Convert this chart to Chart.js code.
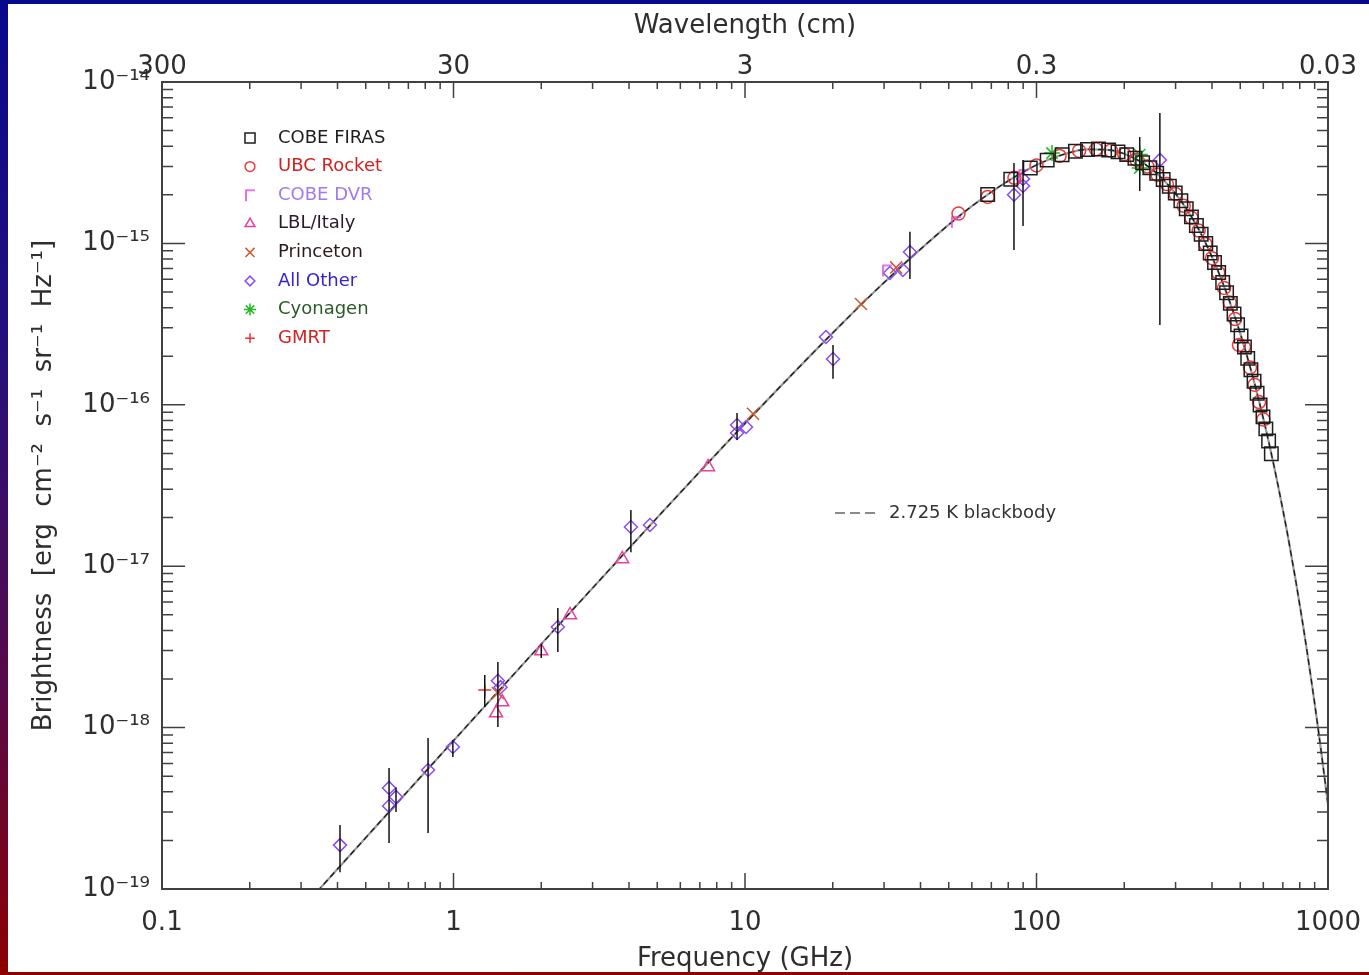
<!DOCTYPE html>
<html>
<head>
<meta charset="utf-8">
<title>CMB spectrum</title>
<script src="https://cdn.jsdelivr.net/npm/chart.js@4/dist/chart.umd.min.js"></script>
<style>
  html, body { margin: 0; padding: 0; }
  body {
    width: 1369px; height: 975px; overflow: hidden; position: relative;
    background: linear-gradient(to bottom, #08088c 0%, #24107c 35%, #560a4a 70%, #8c0000 100%);
  }
  #panel { position: absolute; left: 8px; top: 4px; width: 1361px; height: 968px; background: #fff; }
  #wrap { position: absolute; left: 0; top: 0; width: 1369px; height: 975px; }
</style>
</head>
<body>
<div id="panel"></div>
<div id="wrap"><canvas id="spectrum"></canvas></div>
<script>
// axis ticks (frequency in GHz, brightness in erg cm^-2 s^-1 sr^-1 Hz^-1)
var freqTicks = [0.1, 1, 10, 100, 1000];
var freqTickLabels = ["0.1", "1", "10", "100", "1000"];
var waveTickLabels = ["300", "30", "3", "0.3", "0.03"];
var brightTicks = [1e-19, 1e-18, 1e-17, 1e-16, 1e-15, 1e-14];
var brightTickLabels = ["10⁻¹⁹", "10⁻¹⁸", "10⁻¹⁷", "10⁻¹⁶", "10⁻¹⁵", "10⁻¹⁴"];

// COBE FIRAS
var firasFreq = [68.0, 81.6, 95.2, 108.8, 122.4, 136.0, 149.6, 163.2, 176.8, 190.4, 204.0, 217.6, 231.2, 244.8, 258.4,
    272.0, 285.6, 299.2, 312.8, 326.4, 340.0, 353.6, 367.2, 380.8, 394.4, 408.0, 421.6, 435.2, 448.8, 462.4, 476.0,
    489.6, 503.2, 516.8, 530.4, 544.0, 557.6, 571.2, 584.8, 598.4, 612.0, 625.6, 639.2];
var firasBright = [2.01e-15, 2.50e-15, 2.93e-15, 3.28e-15, 3.54e-15, 3.72e-15, 3.82e-15, 3.84e-15, 3.79e-15, 3.69e-15,
    3.55e-15, 3.37e-15, 3.16e-15, 2.94e-15, 2.72e-15, 2.49e-15, 2.26e-15, 2.05e-15, 1.84e-15, 1.64e-15, 1.46e-15,
    1.29e-15, 1.14e-15, 9.99e-16, 8.73e-16, 7.61e-16, 6.61e-16, 5.72e-16, 4.94e-16, 4.25e-16, 3.65e-16, 3.13e-16,
    2.67e-16, 2.28e-16, 1.94e-16, 1.65e-16, 1.40e-16, 1.18e-16, 9.98e-17, 8.42e-17, 7.09e-17, 5.96e-17, 4.98e-17];

// UBC rocket
var ubcFreq = [54, 68, 84, 100, 120, 140, 160, 180, 200, 220, 240, 260, 280, 300, 320, 340, 360, 380, 400, 420,
    440, 460, 480, 495, 515, 540, 560, 580, 600];
var ubcBright = [1.53e-15, 1.94e-15, 2.55e-15, 3.04e-15, 3.48e-15, 3.74e-15, 3.83e-15, 3.76e-15, 3.57e-15, 3.30e-15,
    3.00e-15, 2.66e-15, 2.33e-15, 2.02e-15, 1.71e-15, 1.44e-15, 1.20e-15, 9.9e-16, 8.1e-16, 6.6e-16, 5.3e-16,
    4.3e-16, 3.4e-16, 2.35e-16, 2.28e-16, 1.70e-16, 1.33e-16, 1.04e-16, 8.1e-17];

// COBE DVR
var dvrFreq = [30.7, 52.9, 90];
var dvrBright = [6.8e-16, 1.36e-15, 2.65e-15];

// LBL / Italy
var lblFreq = [1.40, 1.47, 2.0, 2.51, 3.79, 7.47];
var lblBright = [1.23e-18, 1.44e-18, 2.98e-18, 4.99e-18, 1.11e-17, 4.12e-17];

// Princeton
var princetonFreq = [1.42, 10.65, 25.0, 33.0];
var princetonBright = [1.64e-18, 8.8e-17, 4.21e-16, 7.1e-16];

// all other measurements
var otherFreq = [0.408, 0.601, 0.601, 0.635, 0.818, 0.995, 1.42, 1.45, 2.28, 4.06, 4.72, 9.39, 9.39, 10.08,
    18.96, 20.04, 31.4, 34.8, 36.8, 83.7, 89.9, 89.9, 265];
var otherBright = [1.87e-19, 4.23e-19, 3.27e-19, 3.72e-19, 5.46e-19, 7.58e-19, 1.95e-18, 1.78e-18, 4.2e-18,
    1.75e-17, 1.80e-17, 7.5e-17, 6.69e-17, 7.29e-17, 2.63e-16, 1.92e-16, 6.56e-16, 6.84e-16, 8.85e-16,
    2.0e-15, 2.51e-15, 2.27e-15, 3.29e-15];

// Cyonagen
var cyonagenFreq = [113, 226, 226];
var cyonagenBright = [3.63e-15, 3.55e-15, 2.93e-15];

// GMRT
var gmrtFreq = [1.28];
var gmrtBright = [1.71e-18];

// error bars
var errFreq = [0.408, 0.601, 0.635, 0.818, 0.995, 1.28, 1.42, 2.0, 2.28, 4.06, 9.39, 20.04, 36.8, 83.7, 89.9, 226, 265];
var errLow = [1.27e-19, 1.93e-19, 3.0e-19, 2.22e-19, 6.58e-19, 1.34e-18, 1.01e-18, 2.7e-18, 2.94e-18, 1.22e-17,
    6.05e-17, 1.45e-16, 6.02e-16, 9.1e-16, 1.28e-15, 2.11e-15, 3.12e-16];
var errHigh = [2.49e-19, 5.62e-19, 4.26e-19, 8.63e-19, 8.38e-19, 2.12e-18, 2.55e-18, 3.3e-18, 5.5e-18, 2.23e-17,
    8.9e-17, 2.35e-16, 1.18e-15, 3.15e-15, 3.29e-15, 4.56e-15, 6.43e-15];

// 2.725 K blackbody curve
var bbFreq = [0.34, 0.5, 1, 2, 5, 10, 20, 30, 45, 60, 80, 100, 125, 150, 175, 200, 250, 300, 350, 400, 450, 500,
    550, 600, 625, 650, 675, 700, 725, 750, 775, 800, 825, 850, 875, 900, 925, 950, 975, 1000];
var bbBright = [9.6e-20, 2.08e-19, 8.30e-19, 3.29e-18, 2.00e-17, 7.66e-17, 2.79e-16, 5.72e-16, 1.11e-15, 1.70e-15,
    2.44e-15, 3.06e-15, 3.58e-15, 3.82e-15, 3.80e-15, 3.59e-15, 2.86e-15, 2.03e-15, 1.34e-15, 8.25e-16, 4.87e-16,
    2.77e-16, 1.53e-16, 8.21e-17, 5.98e-17, 4.33e-17, 3.12e-17, 2.24e-17, 1.61e-17, 1.14e-17, 8.13e-18, 5.75e-18,
    4.07e-18, 2.86e-18, 2.01e-18, 1.41e-18, 9.85e-19, 6.86e-19, 4.78e-19, 3.32e-19];

var FONT = "'DejaVu Sans', 'Liberation Sans', sans-serif";
var INK = "#2e2e2e";

// corner-shaped marker for the DVR points
function cornerMark(color) {
    var c = document.createElement("canvas");
    c.width = 14; c.height = 16;
    var g = c.getContext("2d");
    g.strokeStyle = color;
    g.lineWidth = 1.6;
    g.beginPath();
    g.moveTo(3, 14); g.lineTo(3, 3); g.lineTo(12, 3);
    g.stroke();
    return c;
}

var series = [
    { label: "COBE FIRAS", freq: firasFreq, bright: firasBright, shape: "rect", r: 9.5, color: "#1e1e1e", text: "#1e1e1e" },
    { label: "UBC Rocket", freq: ubcFreq, bright: ubcBright, shape: "circle", r: 6.5, color: "#ee3a3a", text: "#d42020" },
    { label: "COBE DVR", freq: dvrFreq, bright: dvrBright, shape: cornerMark("#e04ee0"), r: 7, color: "#e04ee0", text: "#a27af0" },
    { label: "LBL/Italy", freq: lblFreq, bright: lblBright, shape: "triangle", r: 7.5, color: "#e8409c", text: "#2a1a2a" },
    { label: "Princeton", freq: princetonFreq, bright: princetonBright, shape: "crossRot", r: 8.5, color: "#cc5a2e", text: "#2a1a1a" },
    { label: "All Other", freq: otherFreq, bright: otherBright, shape: "rectRot", r: 6.5, color: "#8a4cf2", text: "#3622d8" },
    { label: "Cyonagen", freq: cyonagenFreq, bright: cyonagenBright, shape: "star", r: 8, color: "#22b822", text: "#2a5a2a" },
    { label: "GMRT", freq: gmrtFreq, bright: gmrtBright, shape: "cross", r: 6.5, color: "#ee3030", text: "#d42020" }
];

function toXY(xs, ys) {
    return xs.map(function (v, i) { return { x: v, y: ys[i] } })
}

var datasets = series.map(function (s) {
    return {
        label: s.label,
        data: toXY(s.freq, s.bright),
        showLine: false,
        pointStyle: s.shape,
        pointRadius: s.r,
        pointHoverRadius: s.r,
        pointBorderWidth: 1.5,
        pointBorderColor: s.color,
        pointBackgroundColor: "rgba(0,0,0,0)",
    }
});
// blackbody drawn underneath: a grey base with darker dashes over it
datasets.push({
    label: "2.725 K blackbody",
    data: toXY(bbFreq, bbBright),
    showLine: true,
    pointRadius: 0,
    borderColor: "#1a1a1a",
    borderWidth: 1.3,
    borderDash: [6, 4],
    cubicInterpolationMode: "monotone",
});
datasets.push({
    label: "blackbody base",
    data: toXY(bbFreq, bbBright),
    showLine: true,
    pointRadius: 0,
    borderColor: "#9a9a9a",
    borderWidth: 2.2,
    cubicInterpolationMode: "monotone",
});

function decadeTicks(lo, hi) {
    var out = [];
    for (var d = lo; d < hi * 1.001; d *= 10) {
        for (var m = 1; m <= 9; m++) {
            if (m * d <= hi * 1.001) out.push({ v: m * d, major: m == 1 });
        }
    }
    return out;
}

var framePlugin = {
    id: "frame",
    afterDatasetsDraw: function (chart) {
        var ctx = chart.ctx, a = chart.chartArea, x = chart.scales.x, y = chart.scales.y;
        ctx.save();
        // error bars
        ctx.beginPath();
        ctx.rect(a.left, a.top, a.right - a.left, a.bottom - a.top);
        ctx.clip();
        ctx.strokeStyle = "#111";
        ctx.lineWidth = 1.5;
        errFreq.forEach(function (f, i) {
            var px = x.getPixelForValue(f);
            ctx.beginPath();
            ctx.moveTo(px, y.getPixelForValue(errLow[i]));
            ctx.lineTo(px, y.getPixelForValue(errHigh[i]));
            ctx.stroke();
        });
        ctx.restore();

        ctx.save();
        ctx.strokeStyle = "#404040";
        ctx.lineWidth = 1.5;
        decadeTicks(0.1, 1000).forEach(function (t) {
            var px = x.getPixelForValue(t.v), len = t.major ? 16 : 7;
            ctx.beginPath();
            ctx.moveTo(px, a.bottom); ctx.lineTo(px, a.bottom - len);
            ctx.moveTo(px, a.top); ctx.lineTo(px, a.top + len);
            ctx.stroke();
        });
        decadeTicks(1e-19, 1e-14).forEach(function (t) {
            var py = y.getPixelForValue(t.v), len = t.major ? 23 : 11;
            ctx.beginPath();
            ctx.moveTo(a.left, py); ctx.lineTo(a.left + len, py);
            ctx.moveTo(a.right, py); ctx.lineTo(a.right - len, py);
            ctx.stroke();
        });
        ctx.lineWidth = 2;
        ctx.strokeRect(a.left, a.top, a.right - a.left, a.bottom - a.top);
        ctx.restore();
    },
    afterDraw: function (chart) {
        var ctx = chart.ctx, a = chart.chartArea;
        ctx.save();
        ctx.font = "18px " + FONT;
        ctx.textBaseline = "middle";
        series.forEach(function (s, i) {
            var mx = a.left + 88, my = a.top + 56 + i * 28.6;
            ctx.strokeStyle = s.color;
            ctx.fillStyle = "rgba(0,0,0,0)";
            ctx.lineWidth = 1.5;
            Chart.helpers.drawPoint(ctx, { pointStyle: s.shape, radius: s.r * 0.75, borderWidth: 1.5, rotation: 0 }, mx, my);
            ctx.fillStyle = s.text;
            ctx.fillText(s.label, a.left + 116, my);
        });
        // blackbody key
        var ky = a.top + 431;
        ctx.strokeStyle = "#8a8a8a";
        ctx.lineWidth = 2;
        ctx.setLineDash([10, 5]);
        ctx.beginPath();
        ctx.moveTo(a.left + 673, ky); ctx.lineTo(a.left + 713, ky);
        ctx.stroke();
        ctx.setLineDash([]);
        ctx.fillStyle = "#333";
        ctx.fillText("2.725 K blackbody", a.left + 727, ky);
        ctx.restore();
    }
};

Chart.defaults.font.family = FONT;
Chart.defaults.color = INK;

function fixedTicks(values) {
    return function (scale) {
        scale.ticks = values.map(function (v) { return { value: v } });
    }
}

// frequency axes: fixed band height, end labels may hang past the frame
function fitFreqAxis(h) {
    return function (s) {
        s.height = h;
        s.paddingLeft = 0;
        s.paddingRight = 0;
    }
}

new Chart(document.getElementById("spectrum"), {
    type: "scatter",
    data: { datasets: datasets },
    options: {
        responsive: true,
        maintainAspectRatio: false,
        animation: false,
        layout: { padding: { left: 0, right: 41, top: 0, bottom: 0 } },
        plugins: { legend: { display: false }, tooltip: { enabled: false } },
        scales: {
            x: {
                type: "logarithmic", position: "bottom", min: 0.1, max: 1000,
                grid: { display: false }, border: { display: false },
                afterBuildTicks: fixedTicks(freqTicks),
                afterFit: fitFreqAxis(86),
                ticks: {
                    autoSkip: false, maxRotation: 0, padding: 11, font: { size: 26 }, color: INK,
                    callback: function (v, i) { return freqTickLabels[i] }
                },
                title: { display: true, text: "Frequency (GHz)", font: { size: 26 }, color: INK, padding: { top: 0, bottom: 0 } }
            },
            x2: {
                type: "logarithmic", axis: "x", position: "top", min: 0.1, max: 1000,
                grid: { display: false }, border: { display: false },
                afterBuildTicks: fixedTicks(freqTicks),
                afterFit: fitFreqAxis(82),
                ticks: {
                    autoSkip: false, maxRotation: 0, padding: -9, font: { size: 26 }, color: INK,
                    callback: function (v, i) { return waveTickLabels[i] }
                },
                title: { display: true, text: "Wavelength (cm)", font: { size: 26 }, color: INK, padding: { top: 11, bottom: 0 } }
            },
            y: {
                type: "logarithmic", position: "left", min: 1e-19, max: 1e-14,
                grid: { display: false }, border: { display: false },
                afterBuildTicks: fixedTicks(brightTicks),
                afterFit: function (s) { s.width = 162 },
                ticks: {
                    autoSkip: false, padding: 4, font: { size: 26 }, color: INK,
                    callback: function (v, i) { return brightTickLabels[i] }
                },
                title: { display: true, text: "Brightness  [erg  cm⁻²  s⁻¹  sr⁻¹  Hz⁻¹]", font: { size: 26 }, color: INK, padding: { top: 29, bottom: 0 } }
            }
        }
    },
    plugins: [framePlugin]
});
</script>
</body>
</html>
